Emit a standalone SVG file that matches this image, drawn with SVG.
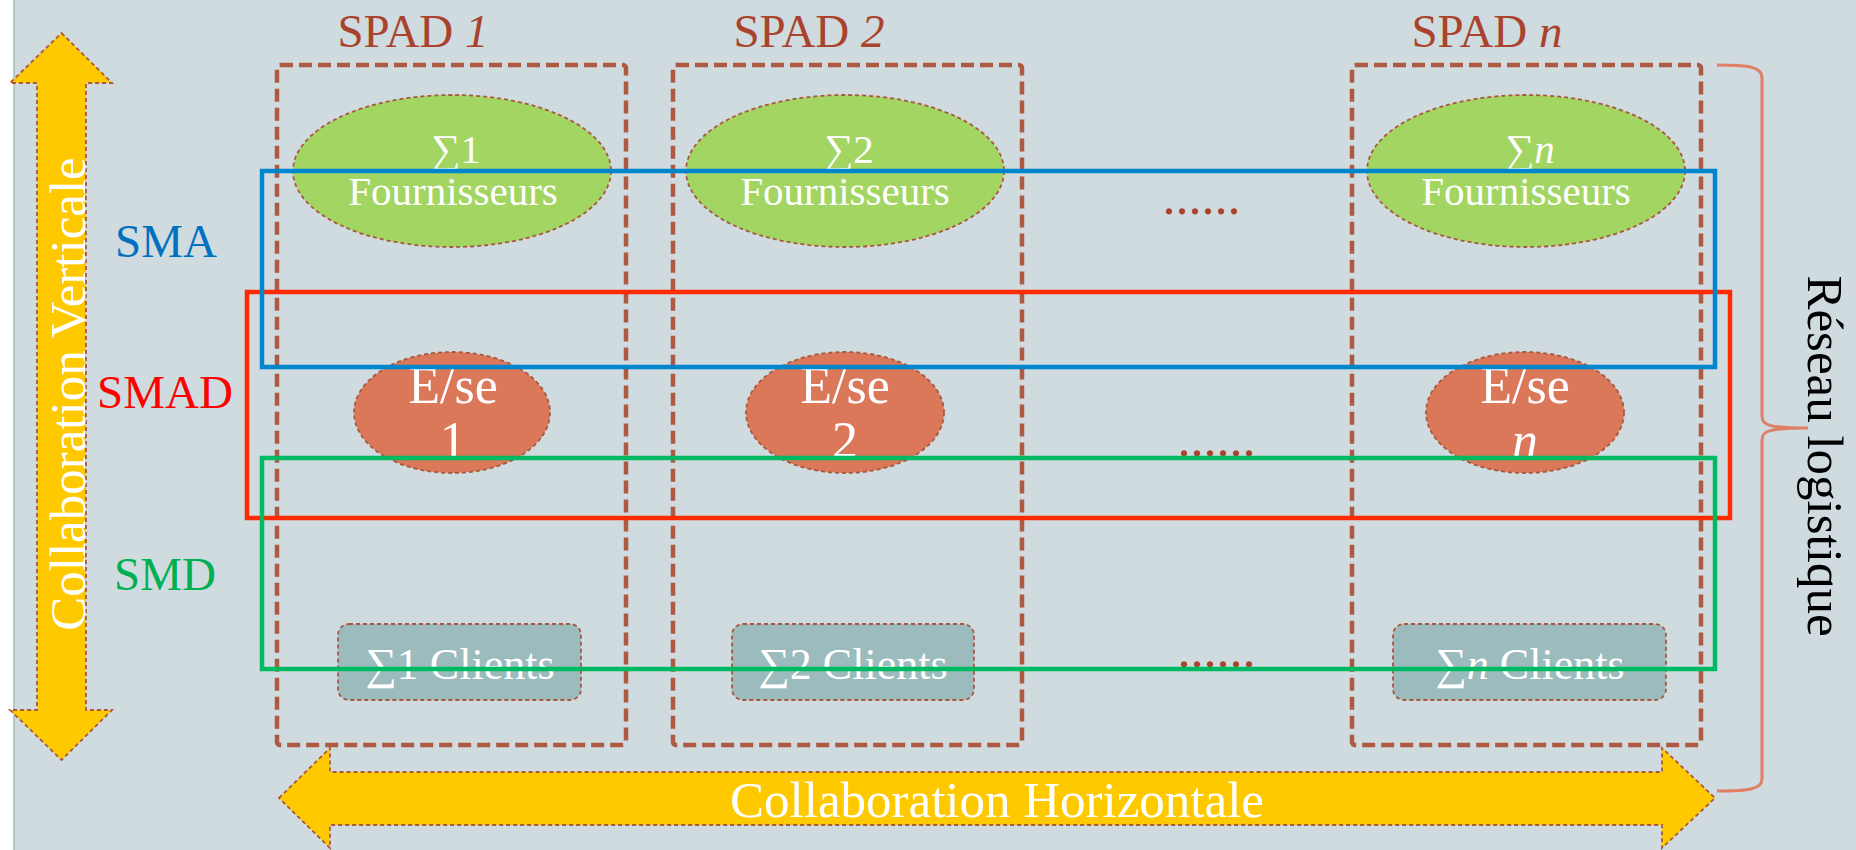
<svg xmlns="http://www.w3.org/2000/svg" width="1856" height="850" viewBox="0 0 1856 850">
<style>
text{font-family:"Liberation Serif","Times New Roman",serif}
.spad{fill:none;stroke:#AE5A42;stroke-width:4.5;stroke-dasharray:13 6}
.thin{stroke:#A9583F;stroke-width:1.8;stroke-dasharray:4 3}
.four{fill:#A2D562}
.ese{fill:#DB785A}
.cli{fill:#9BBBBD}
.wt{fill:#ffffff;text-anchor:middle}
.spadt{fill:#A9432E;font-size:47px;text-anchor:middle}
.dots{fill:#A9432E;font-size:52px}
.yel{fill:#FFC900}
</style>
<rect x="0" y="0" width="1856" height="850" fill="#CFDBDF"/>
<rect x="0" y="0" width="14" height="850" fill="#ffffff"/>
<line x1="14" y1="0" x2="14" y2="850" stroke="#A6B9C0" stroke-width="1.5"/>

<g id="spad1">
<rect class="spad" x="277" y="65" width="349" height="680" rx="3"/>
<text class="spadt" x="413" y="47">SPAD <tspan font-style="italic">1</tspan></text>
</g>
<g id="spad2">
<rect class="spad" x="673" y="65" width="349" height="680" rx="3"/>
<text class="spadt" x="809" y="47">SPAD <tspan font-style="italic">2</tspan></text>
</g>
<g id="spadn">
<rect class="spad" x="1352" y="65" width="349" height="680" rx="3"/>
<text class="spadt" x="1487" y="47">SPAD <tspan font-style="italic">n</tspan></text>
</g>

<g id="fournisseurs1">
<ellipse class="four thin" cx="452" cy="171" rx="159" ry="76"/>
<text class="wt" x="456" y="163" font-size="41">∑1</text>
<text class="wt" x="453" y="205" font-size="41">Fournisseurs</text>
</g>
<g id="fournisseurs2">
<ellipse class="four thin" cx="845" cy="171" rx="159" ry="76"/>
<text class="wt" x="849" y="163" font-size="41">∑2</text>
<text class="wt" x="845" y="205" font-size="41">Fournisseurs</text>
</g>
<g id="fournisseursn">
<ellipse class="four thin" cx="1526" cy="171" rx="159" ry="76"/>
<text class="wt" x="1530" y="163" font-size="41">∑<tspan font-style="italic">n</tspan></text>
<text class="wt" x="1526" y="205" font-size="41">Fournisseurs</text>
</g>

<g id="entreprise1">
<ellipse class="ese thin" cx="452" cy="412.5" rx="98" ry="60.5"/>
<text class="wt" x="453" y="403" font-size="52">E/se</text>
<text class="wt" x="453" y="458" font-size="52">1</text>
</g>
<g id="entreprise2">
<ellipse class="ese thin" cx="845" cy="412.5" rx="99" ry="60.5"/>
<text class="wt" x="845" y="403" font-size="52">E/se</text>
<text class="wt" x="845" y="458" font-size="52">2</text>
</g>
<g id="entreprisen">
<ellipse class="ese thin" cx="1525" cy="412.5" rx="99" ry="60.5"/>
<text class="wt" x="1525" y="403" font-size="52">E/se</text>
<text class="wt" x="1525" y="458" font-size="52" font-style="italic">n</text>
</g>

<g id="clients1">
<rect class="cli thin" x="338" y="624" width="243" height="76" rx="11"/>
<text class="wt" x="460" y="679" font-size="44">∑1 Clients</text>
</g>
<g id="clients2">
<rect class="cli thin" x="732" y="624" width="242" height="76" rx="11"/>
<text class="wt" x="853" y="679" font-size="44">∑2 Clients</text>
</g>
<g id="clientsn">
<rect class="cli thin" x="1393" y="624" width="273" height="76" rx="11"/>
<text class="wt" x="1530" y="679" font-size="44">∑<tspan font-style="italic">n</tspan> Clients</text>
</g>

<g id="ellipsis">
<text class="dots" x="1162.5" y="213.5">......</text>
<text class="dots" x="1177.5" y="455.5">......</text>
<text class="dots" x="1177.5" y="667">......</text>
</g>

<g id="systems">
<rect x="247" y="292" width="1483" height="226" fill="none" stroke="#FF2A00" stroke-width="4.5"/>
<rect x="262" y="171" width="1453" height="196" fill="none" stroke="#0086CC" stroke-width="4.5"/>
<rect x="262" y="458" width="1453" height="211" fill="none" stroke="#00BA63" stroke-width="4.5"/>
<text x="166" y="257" font-size="47" fill="#0070C0" text-anchor="middle">SMA</text>
<text x="165" y="408" font-size="47" fill="#FF0000" text-anchor="middle">SMAD</text>
<text x="165" y="590" font-size="47" fill="#00B050" text-anchor="middle">SMD</text>
</g>

<g id="connectors">
<g id="collab-verticale">
<polygon class="yel thin" points="61.5,33 112,83 86,83 86,710 112,710 61.5,760 10,710 37,710 37,83 10,83"/>
<text class="wt" font-size="51" transform="translate(85,394) rotate(-90)">Collaboration Verticale</text>
</g>
<g id="collab-horizontale">
<polygon class="yel thin" points="279,798 330,748 330,772 1662,772 1662,748 1715,798 1662,848 1662,825 330,825 330,848"/>
<text class="wt" x="997" y="817" font-size="51">Collaboration Horizontale</text>
</g>
<g id="reseau">
<path d="M1717,65 C1750,65 1762,67 1762,78 L1762,416 C1762,425 1768,428 1808,428 M1808,428 C1768,428 1762,431 1762,440 L1762,779 C1762,789 1750,791 1717,791" fill="none" stroke="#E07E66" stroke-width="3"/>
<text font-size="51" fill="#000000" text-anchor="middle" transform="translate(1808,456) rotate(90)">Réseau logistique</text>
</g>
</g>
</svg>
